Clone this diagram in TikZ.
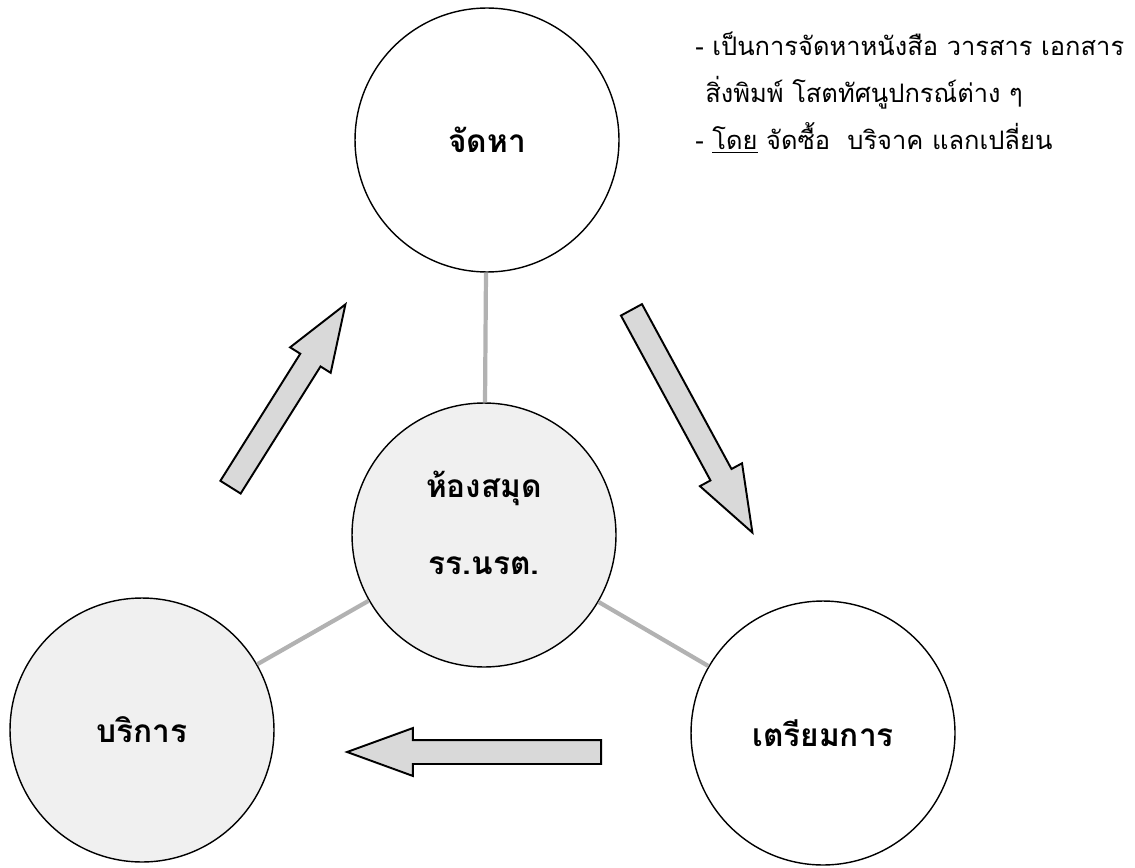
\documentclass[tikz,border=0pt]{standalone}
\usepackage{fontspec}
\newfontfamily\thaifont[Script=Thai]{Loma}
\usetikzlibrary{shapes.arrows}

\begin{document}
\begin{tikzpicture}[x=0.02cm,y=-0.02cm,
    topic/.style={circle,draw,line width=0.8pt,minimum size=5.28cm,inner sep=0pt,align=center,
      font=\thaifont\bfseries\fontsize{18}{22}\selectfont},
    shaded/.style={fill=gray!12},
    link/.style={draw=gray!60,line width=2.4pt},
    blockarrow/.style={single arrow,draw,line width=1.1pt,fill=gray!30,inner sep=0.22cm,anchor=tail,
      minimum width=0.92cm,single arrow head extend=0.24cm,single arrow tip angle=40,minimum height=#1},
    note/.style={anchor=base west,inner sep=0pt,font=\thaifont\fontsize{14.5}{17}\selectfont}]
    \useasboundingbox (0,0) rectangle (1135,868);

    % the four circles
    \node[topic] (acquire) at (487,140) {จัดหา};
    \node[topic,shaded] (library) at (484,535) {};
    \node[align=center,font=\thaifont\bfseries\fontsize{18}{22}\selectfont] (libname) at (484,523) {ห้องสมุด\\[22pt]รร.นรต.};
    \node[topic,shaded] (service) at (142,730) {บริการ};
    \node[topic] (prepare) at (823,733) {เตรียมการ};

    % spokes
    \draw[link] (library) -- (acquire);
    \draw[link] (library) -- (service);
    \draw[link] (library) -- (prepare);

    % cycle arrows, placed at their tails
    \node[blockarrow=4.32cm,rotate=57.85] (up) at (230,488) {};
    \node[blockarrow=5.07cm,rotate=-61.5] (down) at (631,309) {};
    \node[blockarrow=5.08cm,rotate=180] (back) at (602,752) {};

    % notes on acquisition
    \node[note] (note1) at (695,56) {- เป็นการจัดหาหนังสือ วารสาร เอกสาร};
    \node[note] (note2) at (705,103) {สิ่งพิมพ์ โสตทัศนูปกรณ์ต่าง ๆ};
    \node[note] (note3) at (695,150) {- \underline{โดย} จัดซื้อ\ \ บริจาค แลกเปลี่ยน};
\end{tikzpicture}
\end{document}
